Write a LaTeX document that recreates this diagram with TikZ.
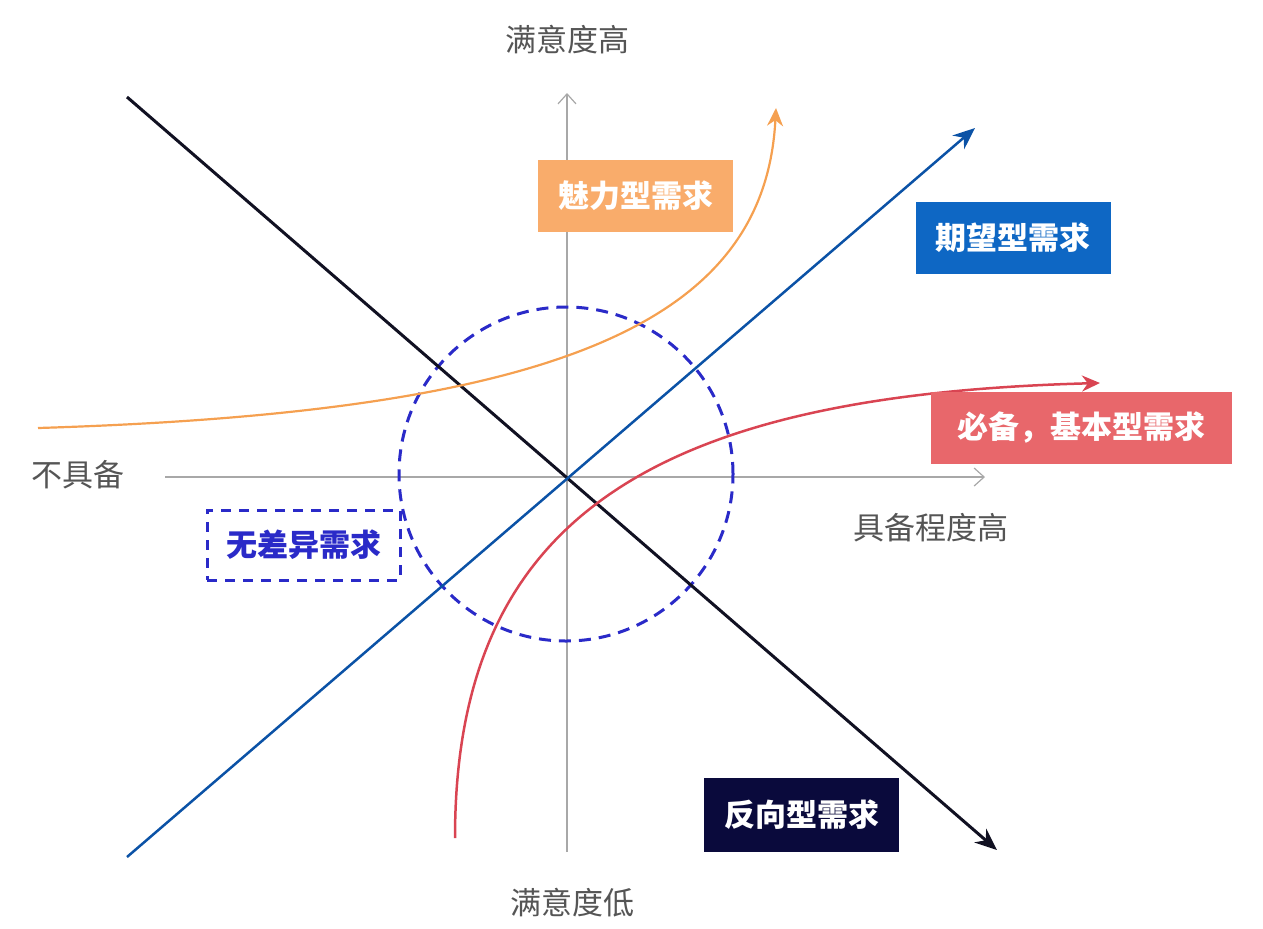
\documentclass[tikz,border=0pt]{standalone}
\usepackage{fontspec}
\setmainfont{Noto Sans CJK SC}
\usetikzlibrary{arrows.meta,positioning}

\definecolor{axisgray}{HTML}{A8A8A8}
\definecolor{labgray}{HTML}{555555}
\definecolor{charmorange}{HTML}{F9AC6B}
\definecolor{charmline}{HTML}{F5A050}
\definecolor{expblue}{HTML}{0E67C4}
\definecolor{expline}{HTML}{0B52A6}
\definecolor{basered}{HTML}{E8676B}
\definecolor{mustline}{HTML}{D94452}
\definecolor{indiffblue}{HTML}{2A2AC8}
\definecolor{revnavy}{HTML}{0A0A3C}
\definecolor{revline}{HTML}{111122}

\begin{document}
\begin{tikzpicture}[
    x=0.5pt,
    y=-0.5pt,
    axis/.style={-{Straight Barb[length=5pt,width=9pt]}, axisgray, line width=0.6pt},
    lab/.style={font=\fontsize{15.5}{16}\selectfont, text=labgray},
    tag/.style={minimum width=97.5pt, minimum height=36pt, inner sep=0pt, text=white,
      font=\fontsize{15.5}{16}\selectfont\bfseries},
    trend/.style={-{Stealth[length=11pt,width=9pt]}},
  ]
  \useasboundingbox (0,0) rectangle (1263,928);

  % axes
  \coordinate (ybot) at (567,852);
  \coordinate (ytop) at (567,93);
  \coordinate (xleft) at (165,477);
  \coordinate (xright) at (985,477);
  \draw[axis] (ybot) -- (ytop);
  \draw[axis] (xleft) -- (xright);
  \node[lab] (sathigh) at (567,40) {满意度高};
  \node[lab] (satlow) at (572,903) {满意度低};
  \node[lab] (notavail) at (78,475) {不具备};
  \node[lab] (availhigh) at (931,528) {具备程度高};

  % indifferent zone
  \draw[indiffblue, line width=1.5pt, dash pattern=on 6pt off 4pt] (566,474) circle (83.5pt);

  % reverse
  \coordinate (revstart) at (127,97);
  \coordinate (revend) at (997,850);
  \draw[trend, revline, line width=1.5pt] (revstart) -- (revend);

  % one-dimensional
  \coordinate (expstart) at (127,857);
  \coordinate (expend) at (975,128);
  \draw[trend, expline, line width=1.25pt] (expstart) -- (expend);

  % attractive
  \coordinate (charmstart) at (38,428);
  \coordinate (charmend) at (776,108);
  \draw[charmline, line width=1.1pt, -{Stealth[length=9pt,width=8pt]}]
    (charmstart) .. controls (560,412) and (765,322) .. (charmend);

  % must-be
  \coordinate (basestart) at (455,838);
  \coordinate (baseend) at (1100,383);
  \draw[mustline, line width=1.25pt, -{Stealth[length=9pt,width=8pt]}]
    (basestart) .. controls (455,520) and (650,395) .. (baseend);

  % labels
  \node[tag, fill=charmorange] (charm) at (635.5,196) {魅力型需求};
  \node[tag, fill=expblue] (expect) at (1013,237.5) {期望型需求};
  \node[tag, fill=basered, minimum width=150.5pt] (basic) at (1081.5,428) {必备，基本型需求};
  \node[tag, fill=revnavy, minimum height=37pt] (reverse) at (801.5,815) {反向型需求};
  \node[tag, text=indiffblue, draw=indiffblue, line width=1.5pt, dash pattern=on 5pt off 4pt,
    minimum width=96.5pt, minimum height=35pt] (indiff) at (303.5,545) {无差异需求};
\end{tikzpicture}
\end{document}
